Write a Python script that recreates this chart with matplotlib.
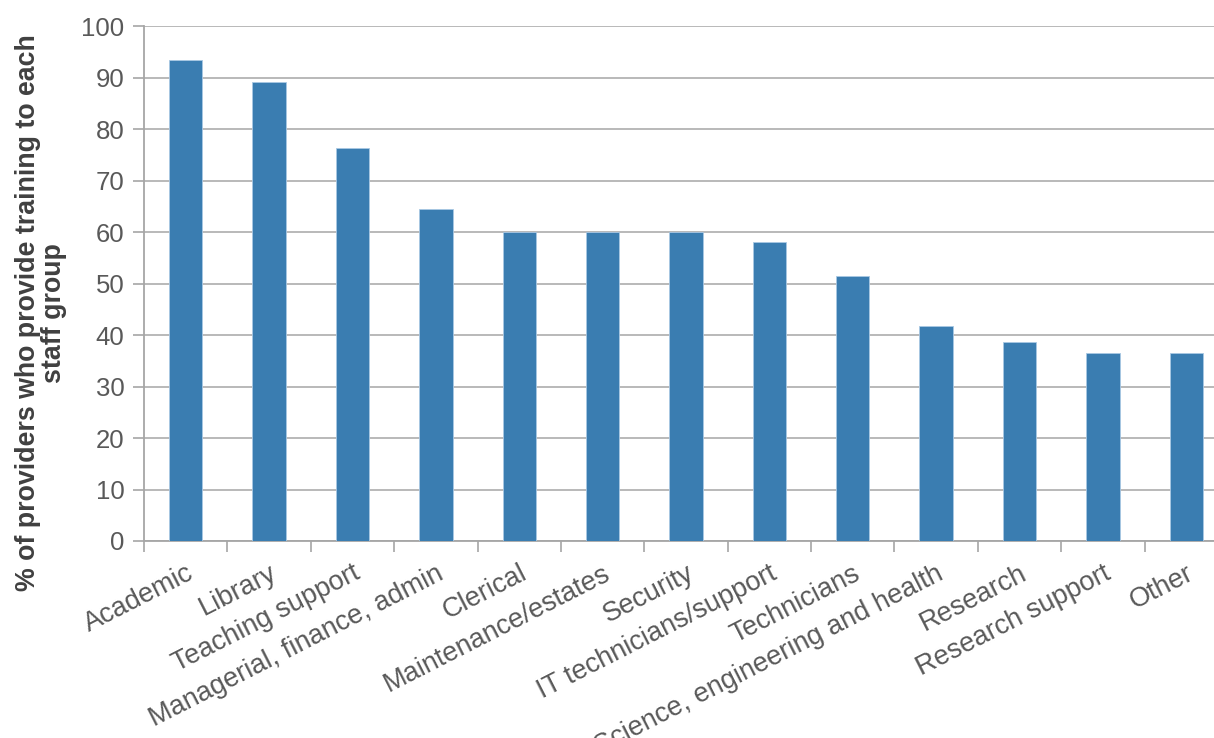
import numpy as np
import matplotlib.pyplot as plt

plt.rcParams['font.family'] = ['Liberation Sans', 'DejaVu Sans']

categories = ['Academic', 'Library', 'Teaching support', 'Managerial, finance, admin',
              'Clerical', 'Maintenance/estates', 'Security', 'IT technicians/support',
              'Technicians', 'Science, engineering and health', 'Research',
              'Research support', 'Other']
values = [93.4, 89.2, 76.3, 64.5, 60.0, 60.0, 60.0, 58.0, 51.5, 41.8, 38.6, 36.6, 36.6]
yticks = [0, 10, 20, 30, 40, 50, 60, 70, 80, 90, 100]

W, H = 1214, 738
fig = plt.figure(figsize=(W / 100, H / 100), dpi=100)
# axis runs past the right edge of the picture, as in the original
ax = fig.add_axes([144 / W, 1 - 541 / H, 1084 / W, 515 / H])

x = np.arange(len(categories))
ax.bar(x, values, width=0.4, color='#3A7DB1', edgecolor='#A9C8E4', linewidth=0.6, zorder=3)

ax.set_xlim(-0.5, len(categories) - 0.5)
ax.set_ylim(0, 100)
ax.set_yticks(yticks)
ax.set_yticklabels([str(t) for t in yticks], fontsize=18.5, color='#595959')
ax.grid(axis='y', color='#B3B3B3', linewidth=1.3, zorder=0)

ax.set_xticks(x)
ax.set_xticklabels(categories, rotation=27, ha='right', va='top',
                   rotation_mode='anchor', fontsize=19.5, color='#595959')
ax.set_xticks(np.arange(len(categories) + 1) - 0.5, minor=True)
ax.tick_params(axis='x', which='major', length=0, pad=14)
ax.tick_params(axis='x', which='minor', length=8, width=1.2, color='#A6A6A6')
ax.tick_params(axis='y', length=8, width=1.2, color='#A6A6A6', pad=6)

for s in ['top', 'right']:
    ax.spines[s].set_visible(False)
for s in ['left', 'bottom']:
    ax.spines[s].set_color('#A6A6A6')
    ax.spines[s].set_linewidth(1.3)

ax.set_ylabel('% of providers who provide training to each\nstaff group',
              fontsize=19.3, fontweight='bold', color='#404040',
              linespacing=1.0)
ax.yaxis.set_label_coords(-0.071, 0.443)

fig.savefig('out.png', dpi=100)
